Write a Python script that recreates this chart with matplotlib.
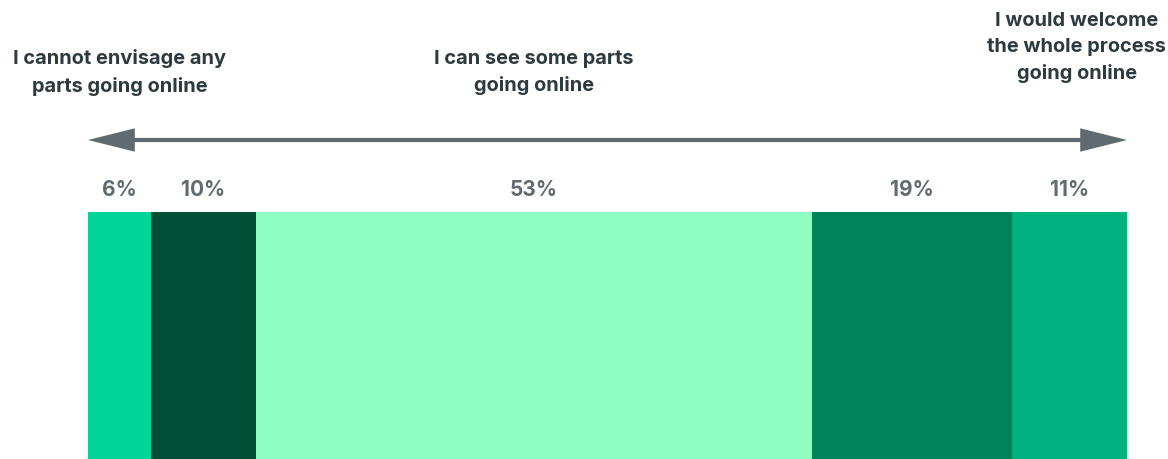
import matplotlib
matplotlib.use('Agg')

import matplotlib.pyplot as plt
import numpy as np
from matplotlib.patches import FancyArrowPatch

# ---------------------------
# DADOS
# ---------------------------
shares = [6, 10, 53, 19, 11]
share_labels = ['6%', '10%', '53%', '19%', '11%']
colors = ['#00D498', '#004E35', '#8EFFC1', '#00835A', '#00B37E']

scale_titles = ['I cannot envisage any\nparts going online',
                'I can see some parts\ngoing online',
                'I would welcome\nthe whole process\ngoing online']

# ---------------------------
# FIGURA
# ---------------------------
W, H = 1168, 459
fig = plt.figure(figsize=(W / 100, H / 100), dpi=100)
ax = fig.add_axes([88 / W, 0, 1039 / W, 1])
total = sum(shares)
ax.set_xlim(0, total)
ax.set_ylim(H, 0)   # y em pixels da imagem, de cima para baixo
ax.axis('off')

plt.rcParams['font.family'] = ['Inter', 'DejaVu Sans']

lefts = np.concatenate([[0], np.cumsum(shares)[:-1]])
centers = lefts + np.array(shares) / 2

# barra empilhada
ax.barh(335.5, shares, left=lefts, height=247, color=colors, linewidth=0)

# rótulos de percentagem
for c, lab in zip(centers, share_labels):
    ax.text(c, 190, lab, ha='center', va='center', fontsize=15,
            fontweight='bold', color='#5F6B70')

# seta de escala
arrow = FancyArrowPatch((0, 140), (total, 140),
                        arrowstyle='<|-|>,head_length=26,head_width=6.5',
                        mutation_scale=1, lw=3, color='#5F6B70',
                        joinstyle='miter', shrinkA=0, shrinkB=0)
ax.add_patch(arrow)

# títulos da escala
title_x = [centers[0], centers[2], 94.2]
title_y = [72.5, 72.5, 47.5]
for x, y, t in zip(title_x, title_y, scale_titles):
    ax.text(x, y, t, ha='center', va='center', fontsize=14.4,
            fontweight='bold', color='#2D3A40', linespacing=1.55,
            clip_on=False)

fig.savefig('out.png', dpi=100)
